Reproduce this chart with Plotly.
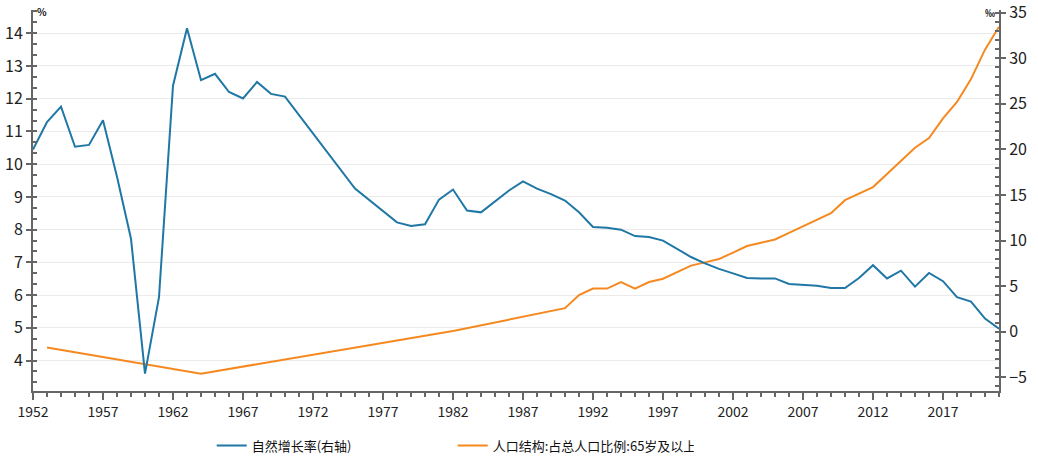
import plotly.graph_objects as go

# 自然增长率 (‰, right axis)
growth_years = [1952, 1953, 1954, 1955, 1956, 1957, 1958, 1959, 1960, 1961,
                1962, 1963, 1964, 1965, 1966, 1967, 1968, 1969, 1970, 1975,
                1978, 1979, 1980, 1981, 1982, 1983, 1984, 1985, 1986, 1987,
                1988, 1989, 1990, 1991, 1992, 1993, 1994, 1995, 1996, 1997,
                1998, 1999, 2000, 2001, 2002, 2003, 2004, 2005, 2006, 2007,
                2008, 2009, 2010, 2011, 2012, 2013, 2014, 2015, 2016, 2017,
                2018, 2019, 2020, 2021]
growth_rate = [20.0, 23.0, 24.7, 20.3, 20.5, 23.2, 17.0, 10.2, -4.6, 3.8,
               27.0, 33.3, 27.6, 28.3, 26.3, 25.6, 27.4, 26.1, 25.8, 15.7,
               12.0, 11.6, 11.8, 14.5, 15.6, 13.3, 13.1, 14.3, 15.5, 16.5,
               15.7, 15.1, 14.4, 13.1, 11.5, 11.4, 11.2, 10.5, 10.4, 10.0,
               9.1, 8.2, 7.5, 6.9, 6.4, 5.9, 5.85, 5.85, 5.25, 5.15,
               5.05, 4.8, 4.8, 5.9, 7.3, 5.85, 6.7, 4.95, 6.45, 5.55,
               3.8, 3.3, 1.45, 0.34]

# 人口结构:占总人口比例:65岁及以上 (%, left axis)
aged_years = [1953, 1964, 1982, 1990, 1991, 1992, 1993, 1994, 1995, 1996,
              1997, 1998, 1999, 2000, 2001, 2002, 2003, 2004, 2005, 2006,
              2007, 2008, 2009, 2010, 2011, 2012, 2013, 2014, 2015, 2016,
              2017, 2018, 2019, 2020, 2021]
aged_share = [4.4, 3.6, 4.9, 5.6, 6.0, 6.2, 6.2, 6.4, 6.2, 6.4,
              6.5, 6.7, 6.9, 7.0, 7.1, 7.3, 7.5, 7.6, 7.7, 7.9,
              8.1, 8.3, 8.5, 8.9, 9.1, 9.3, 9.7, 10.1, 10.5, 10.8,
              11.4, 11.9, 12.6, 13.5, 14.2]

BLUE = "#1f77a6"
ORANGE = "#f5891f"
AXIS = "#666666"
FONT = "Noto Sans CJK SC, Noto Sans, sans-serif"

fig = go.Figure()
fig.add_trace(go.Scatter(
    x=growth_years, y=growth_rate, name="自然增长率(右轴)", mode="lines",
    line=dict(color=BLUE, width=2), yaxis="y2"))
fig.add_trace(go.Scatter(
    x=aged_years, y=aged_share, name="人口结构:占总人口比例:65岁及以上", mode="lines",
    line=dict(color=ORANGE, width=2), yaxis="y"))

fig.update_layout(
    width=1038, height=463,
    margin=dict(l=33, r=39, t=10, b=72, autoexpand=False),
    paper_bgcolor="white", plot_bgcolor="white",
    font=dict(family=FONT, color="#222222"),
    showlegend=True,
    legend=dict(orientation="h", x=0.185, xanchor="left", y=-0.143, yanchor="middle",
                font=dict(size=13, family=FONT, color="#111111"),
                entrywidth=196, itemwidth=30, bgcolor="rgba(0,0,0,0)"),
    xaxis=dict(range=[1952, 2021], tick0=1952, dtick=5, ticks="outside", ticklen=7,
               tickcolor=AXIS, tickwidth=2, showline=True, linecolor=AXIS, linewidth=2,
               showgrid=False, zeroline=False, automargin=False, ticklabeloverflow="allow",
               tickfont=dict(size=14, family=FONT, color="#222222"),
               minor=dict(dtick=1, tick0=1952, ticks="outside", ticklen=4,
                          tickcolor=AXIS, tickwidth=2, showgrid=False)),
    yaxis=dict(range=[3.07, 14.71], tick0=0, dtick=1, ticks="outside", ticklen=5,
               tickcolor=AXIS, tickwidth=2, showline=True, linecolor=AXIS, linewidth=2,
               showgrid=True, gridcolor="#ebebeb", gridwidth=1, zeroline=False,
               automargin=False, ticklabeloverflow="allow",
               tickfont=dict(size=16, family=FONT, color="#222222"),
               minor=dict(dtick=1/3, tick0=0, ticks="inside", ticklen=4,
                          tickcolor=AXIS, tickwidth=2, showgrid=False)),
    yaxis2=dict(range=[-6.5, 35.3], tick0=0, dtick=5, ticks="outside", ticklen=5,
                tickcolor=AXIS, tickwidth=2, showline=True, linecolor=AXIS, linewidth=2,
                overlaying="y", side="right", showgrid=False, zeroline=False,
                automargin=False, ticklabeloverflow="allow",
                tickfont=dict(size=16, family=FONT, color="#222222"),
                minor=dict(dtick=1, tick0=0, ticks="inside", ticklen=4,
                           tickcolor=AXIS, tickwidth=2, showgrid=False)),
    annotations=[
        dict(text="<b>%</b>", xref="paper", yref="paper", x=0, y=1, xanchor="left",
             yanchor="middle", xshift=2, yshift=-1, showarrow=False,
             font=dict(size=10, family=FONT, color="#111111")),
        dict(text="<b>‰</b>", xref="paper", yref="paper", x=1, y=1, xanchor="right",
             yanchor="middle", xshift=-2, yshift=-2, showarrow=False,
             font=dict(size=10, family=FONT, color="#111111")),
    ],
)

fig.write_html("out.html")
